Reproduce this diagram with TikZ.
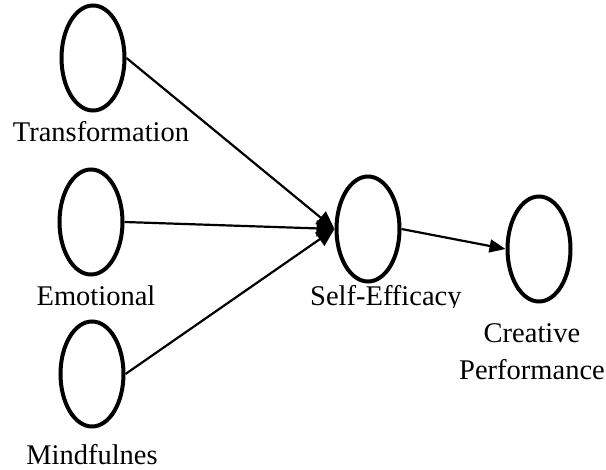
\documentclass[tikz,border=0pt]{standalone}
\usepackage{fontspec}
\setmainfont{Liberation Serif}
\usetikzlibrary{arrows.meta,shapes.geometric}

\tikzset{
  construct/.style={ellipse, draw, line width=4pt, inner sep=0pt,
    minimum width=63pt, minimum height=105pt},
  lbl/.style={anchor=base, inner sep=0pt, font=\fontsize{28.5}{32}\selectfont},
  path/.style={line width=2.2pt, -{Triangle[length=16pt,width=13pt]}},
  inpath/.style={path, -{Triangle[length=18pt,width=16pt]}}
}

\begin{document}
\begin{tikzpicture}[x=1pt, y=-1pt]
  \useasboundingbox (0,0) rectangle (606,470);

  % latent constructs
  \node[construct] (t) at (93,58)  {};
  \node[construct] (e) at (91,222) {};
  \node[construct] (m) at (92,374) {};
  \node[construct] (s) at (368,229) {};
  \node[construct] (c) at (539,249) {};

  % construct labels
  \node[lbl] (tl) at (101,142) {Transformation};
  \node[lbl] (el) at (96,306)  {Emotional};
  \node[lbl] (ml) at (92,465)  {Mindfulnes};
  \begin{scope}
    \clip (300,280) rectangle (470,308);
    \node[lbl, anchor=base west] (sl) at (310,306) {Self-Efficacy};
  \end{scope}
  \node[lbl] (cl1) at (532,343) {Creative};
  \node[lbl] (cl2) at (532,380) {Performance};

  % structural paths
  \draw[inpath] (t.east) -- (s.west);
  \draw[inpath] (e.east) -- (s.west);
  \draw[inpath] (m.east) -- (s.west);
  \draw[path] (s.east) -- (c.west);
\end{tikzpicture}
\end{document}
